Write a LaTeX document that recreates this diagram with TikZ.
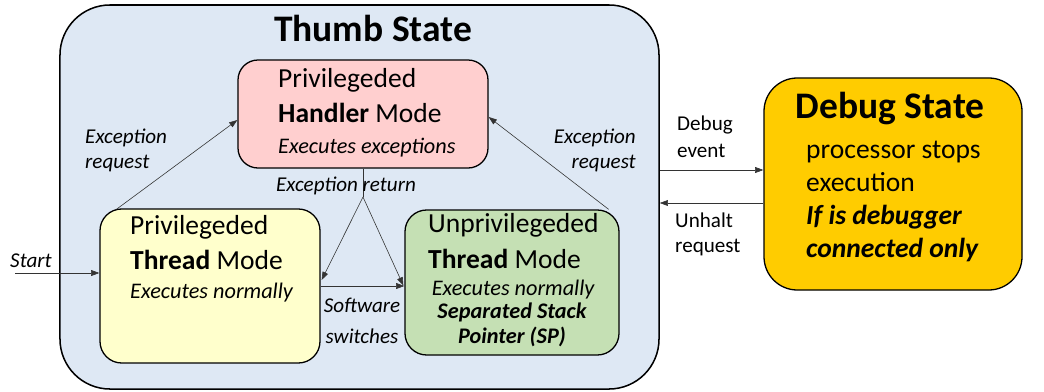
\documentclass[tikz,border=0pt]{standalone}
\usepackage{fontspec}
\setmainfont{Carlito}
\usetikzlibrary{arrows.meta,calc,positioning}

\definecolor{thumbblue}{HTML}{DEE8F4}
\definecolor{handlerpink}{HTML}{FFCFCF}
\definecolor{threadyellow}{HTML}{FFFFCC}
\definecolor{unprivgreen}{HTML}{C5E0B4}
\definecolor{debuggold}{HTML}{FFCC00}

\newcommand{\titlefont}{\fontsize{32}{36}\selectfont\bfseries}
\newcommand{\boxfont}{\fontsize{23.5}{30}\selectfont}
\newcommand{\notefont}{\fontsize{19}{22}\selectfont}
\newcommand{\lblfont}{\fontsize{18}{21}\selectfont}

\tikzset{
  statebox/.style={draw=black, line width=1.1pt, inner sep=0pt},
  trans/.style={-{Triangle[length=7pt,width=5pt]}, line width=0.5pt, draw=black!80},
  lbl/.style={inner sep=0pt, font=\lblfont},
  boxtext/.style={inner sep=0pt, align=left, anchor=base west, font=\boxfont}
}

\begin{document}
\begin{tikzpicture}[x=0.03cm, y=-0.03cm]
  \useasboundingbox (0,0) rectangle (1044,391);

  % states
  \node[statebox, fill=thumbblue, rounded corners=1.5cm, line width=1.3pt,
        minimum width=17.97cm, minimum height=11.52cm] (thumb) at (359.5,197) {};
  \node[statebox, fill=handlerpink, rounded corners=0.6cm,
        minimum width=7.5cm, minimum height=3.24cm] (handler) at (363,114) {};
  \node[statebox, fill=threadyellow, rounded corners=0.65cm,
        minimum width=6.6cm, minimum height=4.62cm] (pthread) at (210,286) {};
  \node[statebox, fill=unprivgreen, rounded corners=0.65cm,
        minimum width=6.42cm, minimum height=4.35cm] (uthread) at (512,282.5) {};
  \node[statebox, fill=debuggold, rounded corners=1cm,
        minimum width=7.74cm, minimum height=6.36cm] (debug) at (893,184) {};

  % texts (anchored at the baseline of the last line)
  \node[inner sep=0pt, anchor=base, font=\titlefont] (thumbtitle) at (373,41) {Thumb State};
  \node[boxtext] (handlertext) at (278,153)
    {Privilegeded\\\textbf{Handler} Mode\\[-4pt]{\notefont\itshape Executes exceptions}};
  \node[boxtext] (pthreadtext) at (130,298)
    {Privilegeded\\\textbf{Thread} Mode\\[-6pt]{\notefont\itshape Executes normally}};
  \node[boxtext] (uthreadtext) at (428,295)
    {Unprivilegeded\\\textbf{Thread} Mode\\[-7pt]\hspace{3pt}{\notefont\itshape Executes normally}};
  \node[inner sep=0pt, anchor=base, align=center, font=\notefont\bfseries\itshape] (sptext) at (512,343)
    {Separated Stack\\[-1pt]Pointer (SP)};
  \node[inner sep=0pt, anchor=base, font=\titlefont] (debugtitle) at (890,118) {Debug State};
  \node[boxtext, font=\fontsize{23.5}{28}\selectfont] (debugtext) at (806,257)
    {processor stops\\execution\\{\bfseries\itshape If is debugger}\\{\bfseries\itshape connected only}};

  % transitions
  \coordinate (start) at (15,273);
  \coordinate (ret) at (363,197);
  \draw[trans] (start) -- (start -| pthread.west);
  \draw[trans] ($(pthread.north west)+(17,1)$) -- ($(handler.west)+(0,6)$);
  \draw[trans] ($(uthread.north east)+(-11,0)$) -- ($(handler.east)+(0,3)$);
  \draw[line width=0.5pt, draw=black!80] (handler.south) -- (ret);
  \draw[trans] (ret) -- ($(pthread.east)+(1,-6)$);
  \draw[trans] (ret) -- ($(uthread.west)+(-1,3)$);
  \draw[trans] (pthread.east) -- (pthread.east -| uthread.west);
  \draw[trans] ($(thumb.east)+(0,-27)$) -- ($(debug.west)+(0,-14)$);
  \draw[trans] ($(debug.west)+(0,19)$) -- ($(thumb.east)+(0,6)$);

  % transition labels
  \node[lbl, anchor=base west] (startlbl) at (10,267) {\itshape Start};
  \node[lbl, anchor=base west, align=left, font=\lblfont\itshape] (reqleft) at (85,168)
    {Exception\\request};
  \node[lbl, anchor=base east, align=right, font=\lblfont\itshape] (reqright) at (636,168)
    {Exception\\request};
  \node[lbl, anchor=base, font=\lblfont\itshape] (retlbl) at (346,191) {Exception return};
  \node[lbl, anchor=base, align=center, font=\fontsize{18}{26}\selectfont\itshape] (swlbl) at (362,343)
    {Software\\switches};
  \node[lbl, anchor=base west, align=left, font=\fontsize{18}{23}\selectfont] (evlbl) at (677,157)
    {Debug\\event};
  \node[lbl, anchor=base west, align=left] (unhaltlbl) at (675,252)
    {Unhalt\\request};
\end{tikzpicture}
\end{document}
